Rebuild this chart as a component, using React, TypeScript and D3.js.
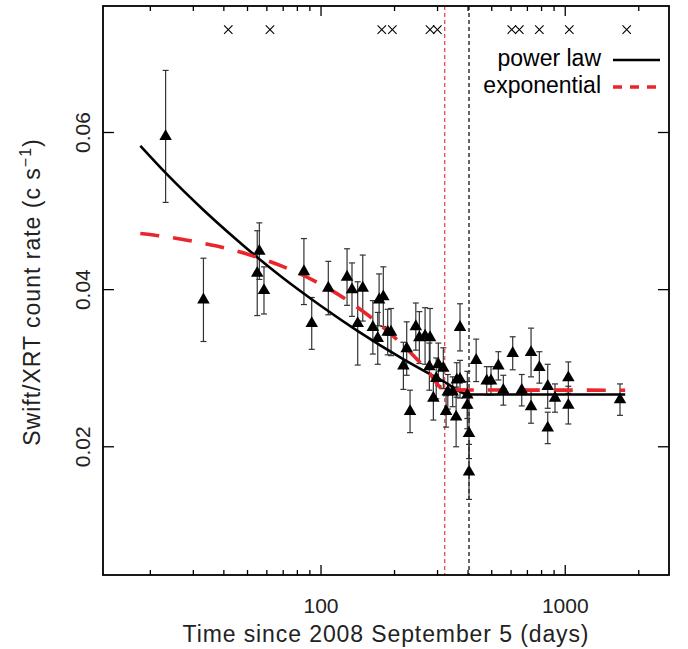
import React from "react";
import * as d3 from "d3";

// ---- data ----
const obsTime = [23.1, 33.0, 55.9, 54.8, 58.4, 85.1, 91.6, 107.1, 127.8, 133.9, 141.3, 148.2, 163.0, 170.7, 172.9, 179.9, 187.5, 193.5, 217.4, 224.3, 231.5, 244.4, 252.7, 266.7, 279.5, 277.7, 288.4, 302.2, 296.3, 316.8, 325.1, 330.4, 346.0, 357.4, 370.8, 370.8, 359.6, 397.3, 397.3, 403.6, 403.6, 431.8, 477, 496.6, 532.2, 557.8, 609.4, 663.5, 724.4, 724.4, 783.4, 847.7, 847.7, 908, 1029.7, 1029.7, 1676];
const obsRate = [0.0595, 0.0387, 0.0449, 0.0421, 0.0399, 0.0423, 0.0357, 0.0402, 0.0416, 0.0400, 0.0357, 0.0402, 0.0352, 0.0338, 0.0387, 0.0391, 0.0346, 0.0346, 0.0303, 0.0325, 0.0245, 0.0353, 0.0339, 0.0341, 0.0339, 0.0302, 0.0262, 0.0305, 0.0287, 0.0300, 0.0245, 0.0270, 0.0270, 0.0238, 0.0352, 0.0286, 0.0285, 0.0266, 0.0253, 0.0217, 0.0168, 0.0310, 0.0284, 0.0284, 0.0303, 0.0272, 0.0319, 0.0272, 0.0320, 0.0251, 0.0301, 0.0277, 0.0224, 0.0262, 0.0288, 0.0253, 0.0260];
const obsErr = [0.0084, 0.0053, 0.0036, 0.0054, 0.0030, 0.0042, 0.0033, 0.0034, 0.0036, 0.0034, 0.0053, 0.0042, 0.0034, 0.0033, 0.0033, 0.0038, 0.0029, 0.0030, 0.0030, 0.0034, 0.0027, 0.0030, 0.0033, 0.0036, 0.0037, 0.0030, 0.0028, 0.0027, 0.0026, 0.0026, 0.0020, 0.0022, 0.0019, 0.0038, 0.0030, 0.0024, 0.0022, 0.0030, 0.0030, 0.0032, 0.0035, 0.0027, 0.0018, 0.0018, 0.0018, 0.0019, 0.0021, 0.0020, 0.0031, 0.0021, 0.0020, 0.0028, 0.0020, 0.0018, 0.0020, 0.0024, 0.0020];

const powTime = [18.2, 23.1, 33, 45, 56, 68, 82, 100, 141, 217, 317, 403.6, 1760];
const powRate = [0.0583, 0.05485, 0.05014, 0.04638, 0.04387, 0.04177, 0.03985, 0.03791, 0.03475, 0.03115, 0.02833, 0.02665, 0.02665];

const expTime = [18.2, 21.2, 29.1, 37.4, 51.2, 67.9, 93, 127.4, 174.4, 224.3, 270.9, 321, 1760];
const expRate = [0.04715, 0.0469, 0.04623, 0.04554, 0.04441, 0.04309, 0.04118, 0.0387, 0.03554, 0.03246, 0.02983, 0.02724, 0.0272];

const crossTime = [41.7, 61.8, 177.3, 195.9, 279.5, 299.5, 604, 648.6, 783.4, 1039, 1785];
const crossRate = 0.0731;

const breakTimes = [321, 403.6];
const breakColors = ["#e8383d", "#000"];

const xMajor = [100, 1000];
const xMinor = [20, 30, 40, 50, 60, 70, 80, 90, 200, 300, 400, 500, 600, 700, 800, 900, 2000];
const yMajor = [0.02, 0.04, 0.06];
const yTickLabels = ["0.02", "0.04", "0.06"];
const xTickLabels = ["100", "1000"];

const legendLabels = ["power law", "exponential"];

const W = 688, H = 649;
const L = 103, R = 669, T = 6, B = 575;

export default function App() {
  const x = d3.scaleLog().domain([12.8, 2660]).range([L, R]);
  const y = d3.scaleLinear().domain([0.00368, 0.0761]).range([B, T]);

  const line = d3
    .line<[number, number]>()
    .x((d) => x(d[0]))
    .y((d) => y(d[1]))
    .curve(d3.curveMonotoneX);

  const powPts = powTime.map((t, i) => [t, powRate[i]] as [number, number]);
  const expPts = expTime.map((t, i) => [t, expRate[i]] as [number, number]);
  const tri = d3.symbol().type(d3.symbolTriangle).size(68)();

  const font = "'Liberation Sans', Arial, sans-serif";
  const txt = "#222";

  return (
    <svg width={W} height={H} style={{ position: "absolute", left: 0, top: 0, background: "#fff" }}>
      <rect x={0} y={0} width={W} height={H} fill="#fff" />
      {/* break lines */}
      {breakTimes.map((t, i) => (
        <line key={"b" + i} x1={x(t)} x2={x(t)} y1={T} y2={B} stroke={breakColors[i]} strokeWidth={1.2} strokeDasharray="4,3" />
      ))}
      {/* crosses */}
      {crossTime.map((t, i) => {
        const cx = x(t), cy = y(crossRate), s = 4.2;
        return (
          <g key={"c" + i} stroke="#000" strokeWidth={1.1}>
            <line x1={cx - s} y1={cy - s} x2={cx + s} y2={cy + s} />
            <line x1={cx - s} y1={cy + s} x2={cx + s} y2={cy - s} />
          </g>
        );
      })}
      {/* error bars */}
      {obsTime.map((t, i) => {
        const cx = x(t);
        const y1 = y(obsRate[i] + obsErr[i]);
        const y2 = y(obsRate[i] - obsErr[i]);
        return (
          <g key={"e" + i} stroke="#333" strokeWidth={1.2}>
            <line x1={cx} x2={cx} y1={y1} y2={y2} />
            <line x1={cx - 3} x2={cx + 3} y1={y1} y2={y1} />
            <line x1={cx - 3} x2={cx + 3} y1={y2} y2={y2} />
          </g>
        );
      })}
      {/* model curves */}
      <path d={line(powPts) || ""} fill="none" stroke="#000" strokeWidth={2.6} />
      <path d={line(expPts) || ""} fill="none" stroke="#e8262b" strokeWidth={3.6} strokeDasharray="19,14" />
      {/* points */}
      {obsTime.map((t, i) => (
        <path key={"p" + i} d={tri || ""} transform={`translate(${x(t)},${y(obsRate[i])})`} fill="#000" />
      ))}
      {/* frame */}
      <rect x={L} y={T} width={R - L} height={B - T} fill="none" stroke="#000" strokeWidth={1.8} />
      {/* x ticks */}
      {xMajor.map((t, i) => (
        <g key={"xm" + i} stroke="#000" strokeWidth={1.3}>
          <line x1={x(t)} x2={x(t)} y1={B} y2={B - 10} />
          <line x1={x(t)} x2={x(t)} y1={T} y2={T + 10} />
        </g>
      ))}
      {xMinor.map((t, i) => (
        <g key={"xn" + i} stroke="#000" strokeWidth={1.3}>
          <line x1={x(t)} x2={x(t)} y1={B} y2={B - 5} />
          <line x1={x(t)} x2={x(t)} y1={T} y2={T + 5} />
        </g>
      ))}
      {xMajor.map((t, i) => (
        <text key={"xl" + i} x={x(t)} y={613} textAnchor="middle" fontFamily={font} fontSize={21} fill={txt}>
          {xTickLabels[i]}
        </text>
      ))}
      {/* y ticks */}
      {yMajor.map((v, i) => (
        <g key={"ym" + i} stroke="#000" strokeWidth={1.3}>
          <line x1={L} x2={L + 11} y1={y(v)} y2={y(v)} />
          <line x1={R} x2={R - 11} y1={y(v)} y2={y(v)} />
        </g>
      ))}
      {yMajor.map((v, i) => (
        <text key={"yl" + i} transform={`translate(90,${y(v)}) rotate(-90)`} textAnchor="middle" fontFamily={font} fontSize={21} fill={txt}>
          {yTickLabels[i]}
        </text>
      ))}
      {/* axis titles */}
      <text x={(L + R) / 2} y={642} textAnchor="middle" fontFamily={font} fontSize={23} letterSpacing={0.9} fill={txt}>
        Time since 2008 September 5 (days)
      </text>
      <text transform={`translate(40,292) rotate(-90)`} textAnchor="middle" fontFamily={font} fontSize={23} letterSpacing={1} fill={txt}>
        Swift/XRT count rate (c s
        <tspan fontSize={16} dy={-9}>−1</tspan>
        <tspan dy={9}>)</tspan>
      </text>
      {/* legend */}
      <text x={601} y={66} textAnchor="end" fontFamily={font} fontSize={23} fill="#000">{legendLabels[0]}</text>
      <text x={601} y={93} textAnchor="end" fontFamily={font} fontSize={23} fill="#000">{legendLabels[1]}</text>
      <line x1={613} x2={660} y1={60} y2={60} stroke="#000" strokeWidth={2.6} />
      <line x1={613} x2={660} y1={87} y2={87} stroke="#e8262b" strokeWidth={3.6} strokeDasharray="9,8" />
    </svg>
  );
}
